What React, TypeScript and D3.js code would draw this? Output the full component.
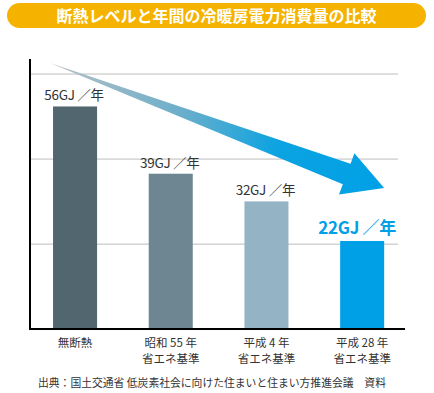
import React, { useEffect, useRef } from 'react';
import * as d3 from 'd3';

const titleText = '断熱レベルと年間の冷暖房電力消費量の比較';
const categories = ['無断熱', '昭和 55 年\n省エネ基準', '平成 4 年\n省エネ基準', '平成 28 年\n省エネ基準'];
const values = [56, 39, 32, 22];
const unitLabel = 'GJ ／年';
const barColors = ['#526670', '#6e8692', '#94b3c4', '#00a0e6'];
const gridValues = [21.2, 42.7, 64.2];
const sourceText = '出典：国土交通省 低炭素社会に向けた住まいと住まい方推進会議　資料';

const FONT = '"Noto Sans CJK JP", "Noto Sans", sans-serif';

const App: React.FC = () => {
  const ref = useRef<SVGSVGElement>(null);

  useEffect(() => {
    if (!ref.current) return;
    const svg = d3.select(ref.current);
    svg.selectAll('*').remove();

    const width = 434;
    const height = 393;
    svg.attr('width', width).attr('height', height);

    // title banner
    svg
      .append('rect')
      .attr('x', 7)
      .attr('y', 3)
      .attr('width', 419)
      .attr('height', 25)
      .attr('rx', 12.5)
      .attr('fill', '#f5b300');
    svg
      .append('text')
      .attr('x', 216.5)
      .attr('y', 21.5)
      .attr('text-anchor', 'middle')
      .attr('font-family', FONT)
      .attr('font-weight', 'bold')
      .attr('font-size', 16)
      .attr('fill', '#fff')
      .text(titleText);

    const x = d3
      .scaleBand<string>()
      .domain(categories)
      .range([27.2, 410])
      .paddingInner(0.54)
      .paddingOuter(0.27);
    const y = d3.scaleLinear().domain([0, 68]).range([328, 59]);

    // gridlines
    svg
      .append('g')
      .selectAll('line')
      .data(gridValues)
      .enter()
      .append('line')
      .attr('x1', 30)
      .attr('x2', 398)
      .attr('y1', (d) => y(d))
      .attr('y2', (d) => y(d))
      .attr('stroke', '#bdbdbd')
      .attr('stroke-width', 1);

    // bars
    svg
      .append('g')
      .selectAll('rect')
      .data(values)
      .enter()
      .append('rect')
      .attr('x', (d, i) => x(categories[i])!)
      .attr('y', (d) => y(d))
      .attr('width', x.bandwidth())
      .attr('height', (d) => y(0) - y(d))
      .attr('fill', (d, i) => barColors[i]);

    // value labels
    svg
      .append('g')
      .selectAll('text')
      .data(values)
      .enter()
      .append('text')
      .attr('x', (d, i) => x(categories[i])! + x.bandwidth() / 2 - (i === 3 ? 5 : 1))
      .attr('y', (d) => y(d) - (d === 22 ? 7 : 6))
      .attr('text-anchor', 'middle')
      .attr('font-family', FONT)
      .attr('font-size', (d, i) => (i === 3 ? 17 : 13.5))
      .attr('font-weight', (d, i) => (i === 3 ? 'bold' : 'normal'))
      .attr('fill', (d, i) => (i === 3 ? '#00a0e6' : '#333'))
      .attr('letter-spacing', -0.3)
      .text((d) => `${d}${unitLabel}`);

    // axes
    svg
      .append('line')
      .attr('x1', 30)
      .attr('x2', 30)
      .attr('y1', 59)
      .attr('y2', y(0) + 1)
      .attr('stroke', '#000')
      .attr('stroke-width', 2);
    svg
      .append('line')
      .attr('x1', 29)
      .attr('x2', 405)
      .attr('y1', y(0) + 1)
      .attr('y2', y(0) + 1)
      .attr('stroke', '#000')
      .attr('stroke-width', 2);

    // category labels
    svg
      .append('g')
      .selectAll('text')
      .data(categories)
      .enter()
      .append('text')
      .attr('text-anchor', 'middle')
      .attr('font-family', FONT)
      .attr('font-size', 11.5)
      .attr('fill', '#333')
      .each(function (d) {
        const t = d3.select(this);
        d.split('\n').forEach((line, j) => {
          t.append('tspan')
            .attr('x', x(d)! + x.bandwidth() / 2)
            .attr('y', 347 + j * 16)
            .text(line);
        });
      });

    // trend arrow
    const defs = svg.append('defs');
    const grad = defs
      .append('linearGradient')
      .attr('id', 'arrowGrad')
      .attr('gradientUnits', 'userSpaceOnUse')
      .attr('x1', 50)
      .attr('y1', 63)
      .attr('x2', 384)
      .attr('y2', 188);
    grad.append('stop').attr('offset', 0).attr('stop-color', '#b9c0c4');
    grad.append('stop').attr('offset', 0.4).attr('stop-color', '#6aaecb');
    grad.append('stop').attr('offset', 0.68).attr('stop-color', '#0ba3e1');
    grad.append('stop').attr('offset', 1).attr('stop-color', '#00a0e6');

    const sx = x(categories[0])! - 3;
    const sy = y(67);
    const tx = x(categories[3])! + x.bandwidth();
    const ty = y(35.4);
    const dx = tx - sx;
    const dy = ty - sy;
    const len = Math.hypot(dx, dy);
    const ux = dx / len;
    const uy = dy / len;
    const nx = -uy;
    const ny = ux;
    const headLen = 40;
    const headHalf = 22;
    const shaftHalf = 11;
    const bx = tx - headLen * ux;
    const by = ty - headLen * uy;
    const pts: [number, number][] = [
      [sx, sy],
      [bx - shaftHalf * nx, by - shaftHalf * ny],
      [bx - headHalf * nx, by - headHalf * ny],
      [tx, ty],
      [bx + headHalf * nx, by + headHalf * ny],
      [bx + shaftHalf * nx, by + shaftHalf * ny],
    ];
    svg
      .append('path')
      .attr('d', d3.line()(pts) + 'Z')
      .attr('fill', 'url(#arrowGrad)');

    // source
    svg
      .append('text')
      .attr('x', 212)
      .attr('y', 387)
      .attr('text-anchor', 'middle')
      .attr('font-family', FONT)
      .attr('font-size', 10.8)
      .attr('fill', '#333')
      .text(sourceText);
  }, []);

  return (
    <svg
      ref={ref}
      style={{ position: 'absolute', left: 0, top: 0, display: 'block', background: '#fff' }}
    ></svg>
  );
};

export default App;
